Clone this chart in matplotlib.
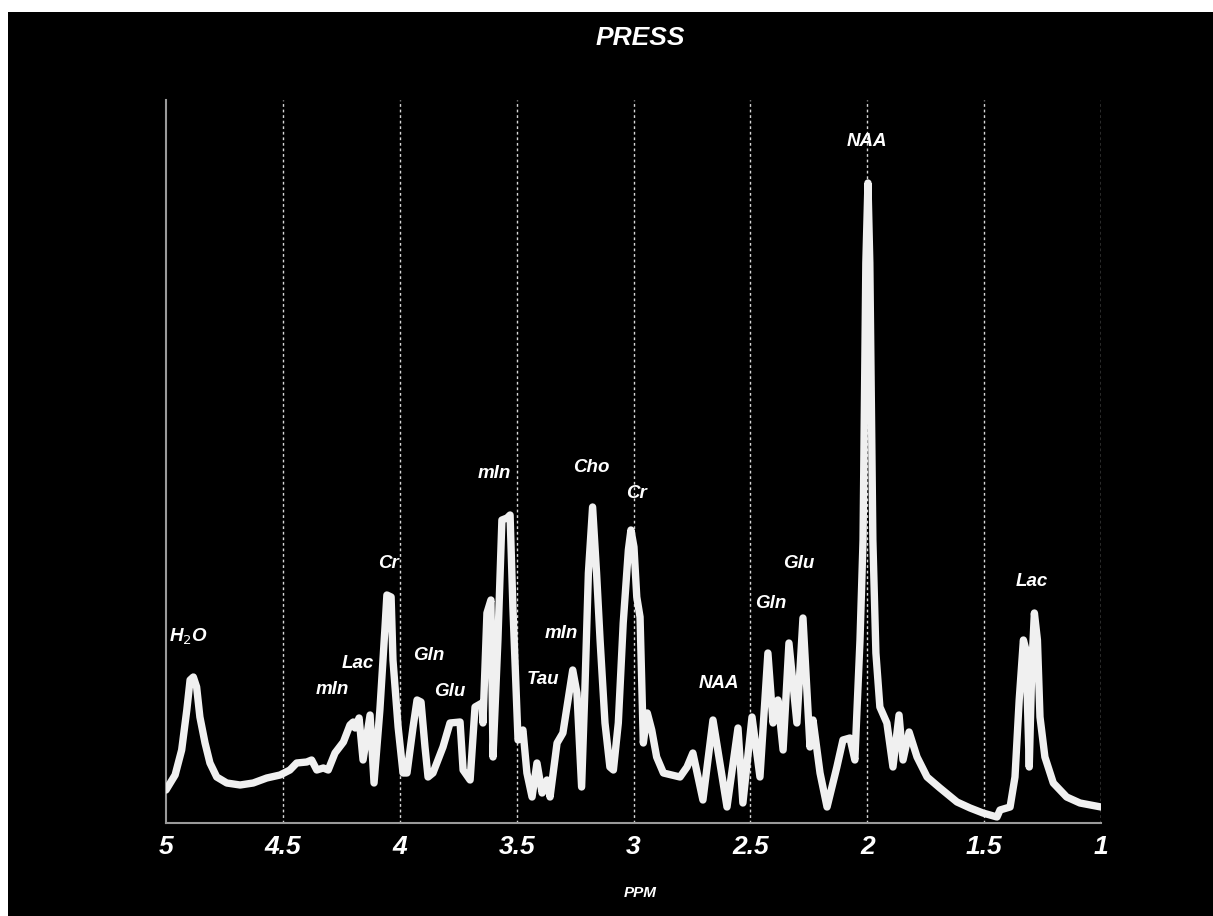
import matplotlib.pyplot as plt
from matplotlib.patches import Rectangle

# spectre PRESS (ppm, intensite en u.a.)
ppm = [5.000, 4.961, 4.933, 4.911, 4.897, 4.883, 4.869, 4.855, 4.833, 4.812,
       4.783, 4.740, 4.683, 4.627, 4.569, 4.512, 4.470, 4.441, 4.398, 4.377,
       4.355, 4.327, 4.306, 4.277, 4.241, 4.213, 4.199, 4.191, 4.174, 4.157,
       4.127, 4.110, 4.085, 4.063, 4.055, 4.037, 4.029, 4.007, 3.986, 3.969,
       3.943, 3.926, 3.909, 3.892, 3.879, 3.858, 3.815, 3.785, 3.742, 3.729,
       3.699, 3.678, 3.648, 3.644, 3.627, 3.610, 3.601, 3.580, 3.563, 3.541,
       3.528, 3.516, 3.494, 3.473, 3.456, 3.434, 3.413, 3.391, 3.370, 3.357,
       3.327, 3.302, 3.280, 3.260, 3.242, 3.222, 3.208, 3.193, 3.175, 3.158,
       3.143, 3.122, 3.101, 3.086, 3.065, 3.044, 3.022, 3.011, 2.998, 2.986,
       2.972, 2.958, 2.941, 2.922, 2.901, 2.872, 2.801, 2.771, 2.746, 2.703,
       2.660, 2.600, 2.553, 2.532, 2.493, 2.459, 2.425, 2.403, 2.382, 2.360,
       2.335, 2.301, 2.275, 2.245, 2.232, 2.202, 2.172, 2.130, 2.104, 2.074,
       2.053, 2.031, 2.018, 2.006, 1.997, 1.989, 1.976, 1.963, 1.946, 1.916,
       1.890, 1.864, 1.847, 1.821, 1.787, 1.744, 1.689, 1.616, 1.560, 1.505,
       1.445, 1.432, 1.389, 1.368, 1.350, 1.332, 1.321, 1.307, 1.296, 1.285,
       1.272, 1.261, 1.240, 1.204, 1.147, 1.090, 1.000]
intensite = [33, 48, 73, 113, 143, 146, 136, 106, 80, 60,
             46, 40, 38, 40, 45, 48, 53, 60, 61, 63,
             53, 55, 53, 70, 81, 98, 101, 95, 105, 63,
             108, 40, 113, 196, 228, 226, 163, 96, 50, 50,
             96, 123, 121, 76, 46, 50, 76, 100, 101, 53,
             43, 116, 120, 100, 210, 223, 66, 183, 303, 305,
             308, 216, 83, 93, 50, 26, 60, 30, 43, 26,
             80, 90, 123, 153, 130, 36, 133, 250, 316, 250,
             183, 100, 56, 53, 100, 200, 273, 293, 276, 226,
             206, 80, 110, 93, 66, 50, 46, 56, 70, 23,
             103, 16, 95, 20, 106, 46, 170, 100, 123, 73,
             180, 100, 205, 76, 103, 50, 16, 56, 83, 85,
             63, 183, 283, 560, 640, 560, 283, 170, 116, 100,
             56, 108, 63, 91, 66, 46, 35, 21, 15, 10,
             6, 13, 16, 46, 123, 183, 173, 56, 156, 210,
             183, 106, 66, 40, 26, 20, 16]

# annotations des metabolites
noms = ["H$_2$O", "mIn", "Lac", "Cr", "Gln", "Glu", "mIn", "Tau", "mIn",
        "Cho", "Cr", "NAA", "Gln", "Glu", "NAA", "Lac"]
noms_ppm = [4.906, 4.290, 4.179, 4.050, 3.875, 3.785, 3.597, 3.387, 3.310,
            3.182, 2.989, 2.634, 2.412, 2.292, 2.001, 1.295]
noms_y = [186, 133, 159, 260, 167, 132, 349, 143, 189,
          355, 329, 140, 220, 259, 682, 242]

graduations = [5, 4.5, 4, 3.5, 3, 2.5, 2, 1.5, 1]
etiquettes = ["5", "4.5", "4", "3.5", "3", "2.5", "2", "1.5", "1"]

police = "Liberation Sans"

fig = plt.figure(figsize=(12.13, 9.16), dpi=100, facecolor="white")
# fond noir avec une petite marge blanche en haut et a gauche
fig.patches.append(Rectangle((8 / 1213, 0), 1, 1 - 12 / 916, transform=fig.transFigure,
                             facecolor="black", edgecolor="none", zorder=-10))

ax = fig.add_axes([166 / 1213, 1 - 823 / 916, 935 / 1213, 723 / 916])
ax.set_facecolor("black")

# grille verticale pointillee
for g in graduations[1:]:
    ax.axvline(g, color="#d8d8d8", linewidth=1, linestyle=(0, (2, 2)), zorder=1)

ax.plot(ppm, intensite, color="#f0f0f0", linewidth=5.3, solid_joinstyle="round",
        solid_capstyle="round", zorder=3)

for nom, x, y in zip(noms, noms_ppm, noms_y):
    ax.text(x, y, nom, color="white", fontsize=13.5, fontweight="bold", fontstyle="italic",
            family=police, ha="center", va="center", zorder=4)

ax.set_xlim(5, 1)
ax.set_ylim(0, 723)
ax.set_xticks(graduations)
ax.set_xticklabels(etiquettes, fontsize=19, fontweight="bold", fontstyle="italic",
                   family=police, color="white")
ax.tick_params(axis="x", length=0, pad=9)
ax.set_yticks([])

for cote in ["top", "right"]:
    ax.spines[cote].set_visible(False)
ax.spines["left"].set_color("#9a9a9a")
ax.spines["bottom"].set_color("#9a9a9a")
ax.spines["left"].set_linewidth(1.5)
ax.spines["bottom"].set_linewidth(1.5)

fig.text(640 / 1213, 1 - 38 / 916, "PRESS", color="white", fontsize=19, fontweight="bold",
         fontstyle="italic", family=police, ha="center", va="center")
fig.text(640 / 1213, 1 - 893 / 916, "PPM", color="white", fontsize=11, fontweight="bold",
         fontstyle="italic", family=police, ha="center", va="center")

fig.savefig("out.png", dpi=100, facecolor=fig.get_facecolor())
